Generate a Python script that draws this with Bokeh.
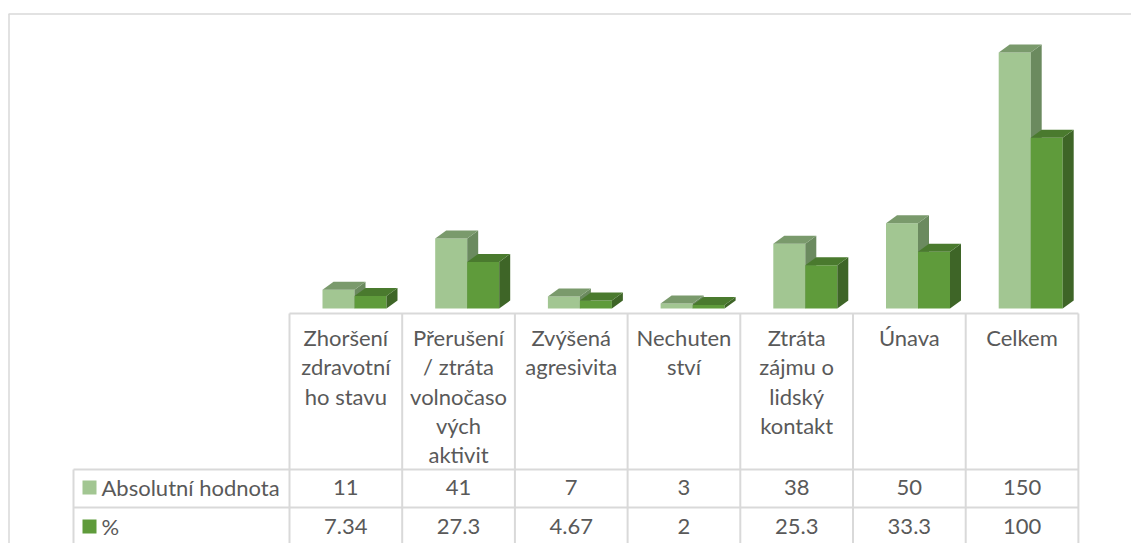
from bokeh.plotting import figure
from bokeh.models import Range1d
from bokeh.embed import file_html
from bokeh.resources import INLINE
from bokeh.core.properties import value

# ---------------- data ----------------
categories = [
    "Zhoršení\nzdravotní\nho stavu",
    "Přerušení\n/ ztráta\nvolnočaso\nvých\naktivit",
    "Zvýšená\nagresivita",
    "Nechuten\nství",
    "Ztráta\nzájmu o\nlidský\nkontakt",
    "Únava",
    "Celkem",
]
series_names = ["Absolutní hodnota", "%"]
absolute = [11, 41, 7, 3, 38, 50, 150]
percent = [7.34, 27.3, 4.67, 2, 25.3, 33.3, 100]

# ---------------- styles ----------------
light_front, light_top, light_side = "#a2c692", "#7a9a6c", "#6b8a5f"
dark_front, dark_top, dark_side = "#5f9b3b", "#4a7a2e", "#3e6527"
grid_col = "#d9d9d9"
text_col = "#595959"
FONT = "Lato"
FS = "22px"

# ---------------- layout (page pixels) ----------------
FIG_W, FIG_H = 1131, 543
ORIGIN = 0
COL_LEFT_PX = 289.0
COL_W_PX = 112.7
FLOOR_PX = 308.0
PX_PER_UNIT = 1.707
TEXT_DY = -8.0

def X(px):
    return (px - COL_LEFT_PX) / COL_W_PX

def Y(py):
    return (FLOOR_PX - py) / PX_PER_UNIT

def YT(py):
    return Y(py + TEXT_DY)

p = figure(
    width=FIG_W, height=FIG_H,
    x_range=Range1d(X(ORIGIN), X(ORIGIN + FIG_W)),
    y_range=Range1d(Y(ORIGIN + FIG_H), Y(ORIGIN)),
    x_axis_type=None, y_axis_type=None,
    toolbar_location=None, output_backend="svg",
    min_border=0, outline_line_color=None,
    background_fill_color="white", border_fill_color="white",
)
p.grid.visible = False

n = len(categories)

# bar geometry in data units
BW = 32 / COL_W_PX
OFF_L = 33 / COL_W_PX
DX = 11 / COL_W_PX
DY = 8 / PX_PER_UNIT

def bar_faces(lefts, heights):
    tops_x, tops_y, sides_x, sides_y = [], [], [], []
    for L, h in zip(lefts, heights):
        R = L + BW
        tops_x.append([L, R, R + DX, L + DX])
        tops_y.append([h, h, h + DY, h + DY])
        sides_x.append([R, R, R + DX, R + DX])
        sides_y.append([0, h, h + DY, DY])
    return tops_x, tops_y, sides_x, sides_y

light_left = [i + OFF_L for i in range(n)]
dark_left = [i + OFF_L + BW for i in range(n)]

for lefts, vals, cf, ct, cs in [
    (light_left, absolute, light_front, light_top, light_side),
    (dark_left, percent, dark_front, dark_top, dark_side),
]:
    tx, ty, sx, sy = bar_faces(lefts, vals)
    p.vbar(x=[L + BW / 2 for L in lefts], width=BW, top=vals, bottom=0,
           fill_color=cf, line_color=None)
    p.patches(sx, sy, fill_color=cs, line_color=None)
    p.patches(tx, ty, fill_color=ct, line_color=None)

# ---------------- chart border ----------------
p.segment(x0=[X(8), X(8.5)], y0=[Y(13.5), Y(13.5)],
          x1=[X(FIG_W), X(8.5)], y1=[Y(13.5), Y(FIG_H)],
          line_color=grid_col, line_width=1.5)

# ---------------- data table ----------------
TAB_TOP = 313.0
ROW1 = 469.0
ROW2 = 507.0
BOTTOM = FIG_H + 10
LEG_LEFT = 73.0
right_px = COL_LEFT_PX + n * COL_W_PX

x0s, y0s, x1s, y1s = [], [], [], []
for (xa, ya, xb) in [(COL_LEFT_PX, TAB_TOP, right_px), (LEG_LEFT, ROW1, right_px), (LEG_LEFT, ROW2, right_px)]:
    x0s.append(X(xa)); y0s.append(Y(ya)); x1s.append(X(xb)); y1s.append(Y(ya))
for k in range(n + 1):
    xp = COL_LEFT_PX + k * COL_W_PX
    x0s.append(X(xp)); y0s.append(Y(TAB_TOP)); x1s.append(X(xp)); y1s.append(Y(BOTTOM))
x0s.append(X(LEG_LEFT)); y0s.append(Y(ROW1)); x1s.append(X(LEG_LEFT)); y1s.append(Y(BOTTOM))
p.segment(x0=x0s, y0=y0s, x1=x1s, y1=y1s, line_color=grid_col, line_width=2)

# header labels
LINE_H = 29.3
hx, hy, ht = [], [], []
for i, cat in enumerate(categories):
    for k, line in enumerate(cat.split("\n")):
        hx.append(i + 0.5)
        hy.append(YT(345 + k * LINE_H))
        ht.append(line)
p.text(x=hx, y=hy, text=ht, text_align="center", text_baseline="alphabetic",
       text_font=value(FONT), text_font_size=FS, text_color=text_col)

# values
row_base = [495.0, 534.0]
vx, vy, vt = [], [], []
for r, vals in enumerate([absolute, percent]):
    for i, v in enumerate(vals):
        vx.append(i + 0.5)
        vy.append(YT(row_base[r]))
        vt.append(f"{v:g}")
p.text(x=vx, y=vy, text=vt, text_align="center", text_baseline="alphabetic",
       text_font=value(FONT), text_font_size=FS, text_color=text_col)

# legend keys
SQ = 14
sq_centers = [487.0, 526.0]
p.rect(x=[X(82 + SQ / 2)] * 2, y=[Y(c) for c in sq_centers],
       width=SQ / COL_W_PX, height=SQ / PX_PER_UNIT,
       fill_color=[light_front, dark_front], line_color=None)
p.text(x=[X(101)] * 2, y=[YT(b) for b in row_base], text=series_names,
       text_align="left", text_baseline="alphabetic",
       text_font=value(FONT), text_font_size=FS, text_color=text_col)

open("out.html", "w").write(file_html(p, INLINE))
